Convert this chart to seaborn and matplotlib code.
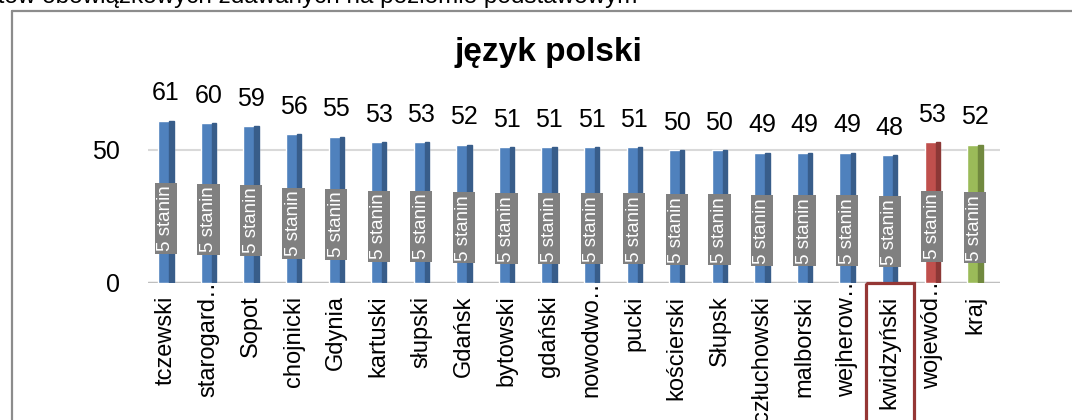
import matplotlib
matplotlib.use("Agg")
import matplotlib.pyplot as plt
import matplotlib.patches as mpatches
import matplotlib.lines as mlines
import matplotlib.transforms as mtransforms
import seaborn as sns

categories = ["tczewski", "starogard…", "Sopot", "chojnicki", "Gdynia", "kartuski",
              "słupski", "Gdańsk", "bytowski", "gdański", "nowodwo…", "pucki",
              "kościerski", "Słupsk", "człuchowski", "malborski", "wejherow…",
              "kwidzyński", "wojewód…", "kraj"]
values = [61, 60, 59, 56, 55, 53, 53, 52, 51, 51, 51, 51, 50, 50, 49, 49, 49, 48, 53, 52]
stanin = ["5 stanin"] * len(categories)
highlight = "kwidzyński"

front = {"blue": "#4F81BD", "red": "#C0504D", "green": "#9BBB59"}
side = {"blue": "#385D8A", "red": "#8C3836", "green": "#71893F"}
groups = ["blue"] * 18 + ["red", "green"]

sns.set_style("white")
plt.rcParams["font.family"] = ["Liberation Sans", "DejaVu Sans"]
plt.rcParams["text.color"] = "black"
plt.rcParams["xtick.color"] = "black"
plt.rcParams["ytick.color"] = "black"

fig = plt.figure(figsize=(10.72, 4.2), dpi=100)
ax = fig.add_axes([148 / 1072, 137 / 420, 852 / 1072, 173 / 420])

sns.barplot(x=categories, y=values, hue=categories,
            palette=[front[g] for g in groups], legend=False,
            width=0.36, saturation=1, ax=ax, zorder=3)

# darker right face, to hint at the 3D look
for patch, g in zip(ax.patches, groups):
    w = patch.get_width()
    ax.add_patch(mpatches.Rectangle((patch.get_x() + w * 0.72, 0), w * 0.28,
                                    patch.get_height(), color=side[g], zorder=4))

ax.set_xlim(-0.42, 19.59)
ax.set_ylim(0, 65)
ax.set_yticks([0, 50])
ax.axhline(50, color="#D9D9D9", lw=1.5, zorder=1)
ax.axhline(0, color="#BFBFBF", lw=2.5, zorder=1)
for s in ax.spines.values():
    s.set_visible(False)
ax.tick_params(axis="y", length=0, labelsize=18, pad=20)
ax.tick_params(axis="x", length=0, labelsize=17, pad=9, labelrotation=90)
ax.set_xlabel("")
ax.set_ylabel("")

# value labels and stanin boxes
for i, (v, t) in enumerate(zip(values, stanin)):
    ax.annotate(str(v), (i, v), xytext=(0, 11), textcoords="offset points",
                ha="center", va="bottom", fontsize=18, zorder=6)
    ax.text(i, v * 0.4, t, rotation=90, ha="center", va="center",
            fontsize=13.5, color="white", zorder=6,
            bbox=dict(boxstyle="square,pad=0.14", fc="#808080", ec="none"))

# highlight box around one category label
k = categories.index(highlight)
trans = mtransforms.blended_transform_factory(ax.transData, ax.transAxes)
ax.add_patch(mpatches.Rectangle((k - 0.56, 0.0), 1.12, -1.0, transform=trans,
                                fill=False, ec="#953735", lw=2.3, clip_on=False, zorder=7))

# truncated labels: the ellipsis pokes up past the other labels, as in Excel
shift = mtransforms.ScaledTranslation(0, 16 / 72, fig.dpi_scale_trans)
for lbl in ax.get_xticklabels():
    if lbl.get_text().endswith("…"):
        lbl.set_transform(lbl.get_transform() + shift)

fig.text(548 / 1072, 1 - 52 / 420, "język polski", ha="center", va="center",
         fontsize=24, fontweight="bold")
fig.text(637 / 1072, 1 - 3 / 420,
         "przedmiotów obowiązkowych zdawanych na poziomie podstawowym",
         ha="right", va="baseline", fontsize=17.5)

# outer chart frame (only left and top edges are inside the picture)
fx, fy = 11.5 / 1072, 1 - 10.5 / 420
fig.add_artist(mlines.Line2D([fx, fx], [0, fy], color="#8C8C8C", lw=1.6))
fig.add_artist(mlines.Line2D([fx, 1], [fy, fy], color="#8C8C8C", lw=1.6))

fig.savefig("out.png", dpi=100)
